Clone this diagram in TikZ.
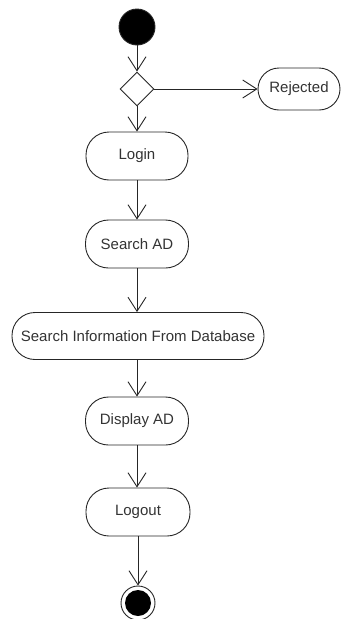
\documentclass[tikz,border=0pt]{standalone}
\usepackage{fontspec}
\setmainfont{Liberation Sans}
\usetikzlibrary{shapes.geometric,arrows.meta}
\begin{document}
\begin{tikzpicture}[x=1pt,y=1pt,
  line width=0.9pt, draw=black!85,
  act/.style={draw, rounded corners=23pt, minimum height=48pt, inner sep=0pt, text=black!80, font=\fontsize{15}{17}\selectfont},
  flow/.style={-{Straight Barb[length=14pt,width=18pt,line width=0.9pt]}},
  dec/.style={draw, diamond, aspect=1, minimum width=34pt, minimum height=34pt, inner sep=0pt}]
\useasboundingbox (0,0) rectangle (350,-619);
\node[draw, circle, fill=black, minimum size=36pt, inner sep=0pt] (start) at (137,-27) {};
\node[dec] (d) at (137,-89) {};
\node[act, minimum width=82pt, minimum height=42pt, rounded corners=21pt] (rej) at (299,-89) {Rejected};
\node[act, minimum width=102pt] (login) at (137,-156) {Login};
\node[act, minimum width=103pt] (sad) at (137,-244) {Search AD};
\node[act, minimum width=252pt, minimum height=47pt] (sifd) at (138,-336) {Search Information From Database};
\node[act, minimum width=103pt] (dad) at (137,-421) {Display AD};
\node[act, minimum width=104pt] (logout) at (138,-512) {Logout};
\node[draw, circle, minimum size=34pt, inner sep=0pt] (end) at (138,-603) {};
\node[circle, fill=black, minimum size=26pt, inner sep=0pt] (endin) at (end.center) {};
\draw[flow] (start) -- (d);
\draw[flow] (d.east) -- (rej.west |- d.east);
\draw[flow] (d.south) -- (login.north -| d.south);
\draw[flow] (login) -- (sad);
\draw[flow] (sad.south) -- (sifd.north -| sad.south);
\draw[flow] (sifd.south -| dad.north) -- (dad.north);
\draw[flow] (dad.south) -- (logout.north -| dad.south);
\draw[flow] (logout.south) -- (end.north -| logout.south);
\end{tikzpicture}
\end{document}
